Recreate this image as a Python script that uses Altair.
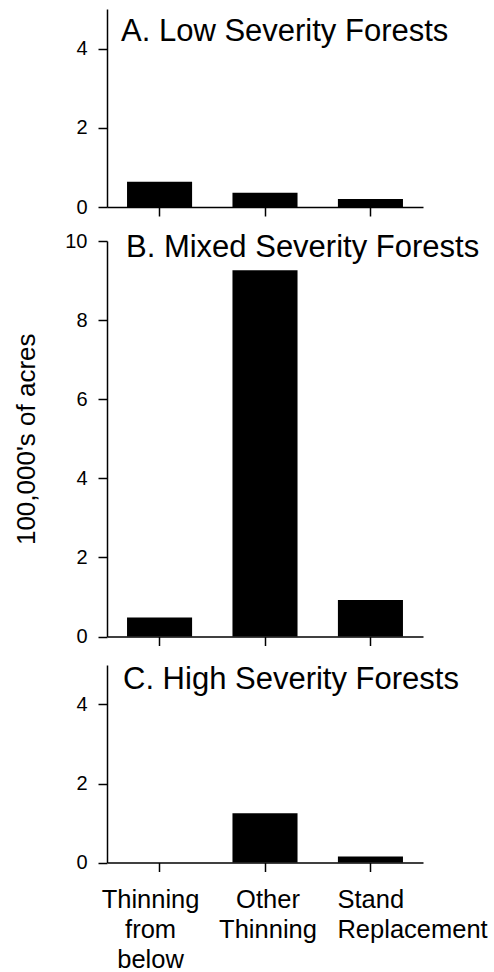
import altair as alt
import pandas as pd

categories = ["Thinning from below", "Other Thinning", "Stand Replacement"]
low_values = [0.64, 0.36, 0.20]
mixed_values = [0.48, 9.26, 0.92]
high_values = [0.0, 1.25, 0.15]
panel_titles = ["A. Low Severity Forests", "B. Mixed Severity Forests", "C. High Severity Forests"]
small_ticks = [0, 2, 4]
large_ticks = [0, 2, 4, 6, 8, 10]
y_title = "100,000's of acres"

FONT = "Liberation Sans"
W = 316


def panel(values, title, ymax, ticks, height, title_xy, yrange=None,
          show_labels=False, ytitle=None):
    df = pd.DataFrame({"category": categories, "value": values})
    sc = dict(domain=[0, ymax], nice=False, zero=True)
    if yrange is not None:
        sc["range"] = yrange
    yax = dict(values=ticks, format="d", labelFontSize=20, tickSize=9, labelPadding=11)
    if ytitle:
        yax.update(title=ytitle, titleFontSize=26, titleFontWeight="normal",
                   titlePadding=25, titleFont=FONT, titleColor="black")
    else:
        yax["title"] = ""
    xax = dict(title="", labels=show_labels, tickSize=9, labelAngle=0)
    if show_labels:
        xax.update(
            labelExpr="split(datum.label, ' ')",
            labelFontSize=25.5,
            labelLineHeight=30,
            labelPadding=16,
            labelOverlap=False,
            labelAlign={"condition": {"test": "datum.value == 'Stand Replacement'", "value": "left"},
                        "value": "center"},
            labelOffset={"condition": [
                {"test": "datum.value == 'Thinning from below'", "value": -9},
                {"test": "datum.value == 'Stand Replacement'", "value": -33}],
                "value": 3},
        )
    bars = alt.Chart(df).mark_bar(color="black").encode(
        x=alt.X("category:N", sort=categories,
                scale=alt.Scale(paddingInner=0.383, paddingOuter=0.19),
                axis=alt.Axis(**xax)),
        y=alt.Y("value:Q", scale=alt.Scale(**sc), axis=alt.Axis(**yax)),
    )
    txt = alt.Chart(pd.DataFrame({"t": [title]})).mark_text(
        align="left", baseline="alphabetic", fontSize=31, font=FONT, color="black"
    ).encode(text="t:N", x=alt.value(title_xy[0]), y=alt.value(title_xy[1]))
    return alt.layer(bars, txt).properties(width=W, height=height)


pa = panel(low_values, panel_titles[0], 5, small_ticks, 198, (14, 32))
pb = panel(mixed_values, panel_titles[1], 10, large_ticks, 401.5, (19, 22),
           yrange=[401.5, 6], ytitle=y_title)
pc = panel(high_values, panel_titles[2], 5, small_ticks, 197.5, (16, 24), show_labels=True)

chart = alt.vconcat(pa, pb, pc, spacing=28, bounds="flush").properties(
    padding={"left": 13, "top": 8, "right": 5, "bottom": 0}
).configure_view(stroke="transparent").configure_axis(
    domainColor="black", domainWidth=1.5, tickColor="black", tickWidth=1.5,
    labelColor="black", labelFont=FONT, titleFont=FONT, grid=False,
)

chart.save("out.html", embed_options={"renderer": "svg", "actions": False})
